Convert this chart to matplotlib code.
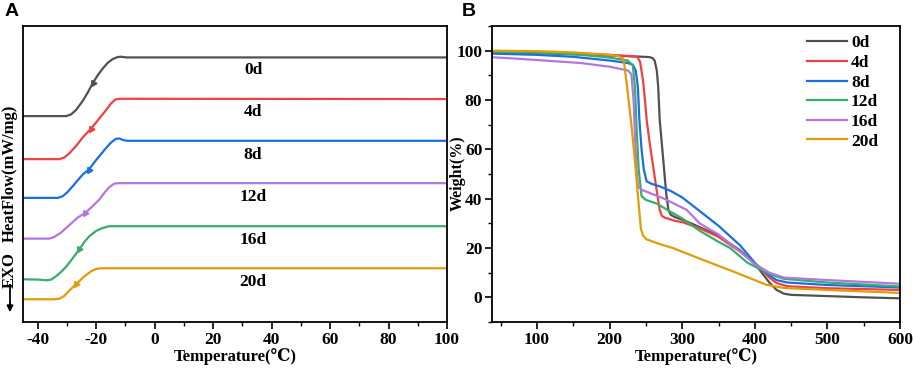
import numpy as np
import matplotlib
matplotlib.use("Agg")
import matplotlib.pyplot as plt
from matplotlib.ticker import MultipleLocator

plt.rcParams['font.family'] = ['Liberation Serif', 'DejaVu Serif']
plt.rcParams['font.weight'] = 'bold'
plt.rcParams['axes.unicode_minus'] = False

colors = ['#515151', '#F14040', '#1A6FDF', '#B177DE', '#37AD6B', '#E19C0A']

# ---- panel A : DSC curves (arbitrary heat-flow units, stacked) ----
dsc_labels = ['0d', '4d', '8d', '12d', '16d', '20d']
t_0d = [-45, -30.3, -28.6, -26.9, -24.6, -22.9, -21.2, -19.4, -17.7, -16.0, -14.3, -12.6, -11.4, -9.7, 100]
h_0d = [205.7, 205.7, 207.3, 211.7, 220.7, 229.0, 238.3, 246.7, 253.3, 259.0, 262.7, 264.7, 265.0, 264.3, 264.3]
t_4d = [-45, -32.6, -30.9, -29.2, -26.9, -24.6, -21.7, -18.9, -16.6, -14.9, -13.4, -12.0, 100]
h_4d = [162.7, 162.7, 164.3, 168.3, 175.7, 184.3, 193.3, 203.3, 211.7, 218.3, 222.3, 223.0, 222.7]
t_8d = [-45, -33.1, -31.4, -29.7, -27.4, -24.6, -22.5, -20.0, -17.2, -14.9, -13.2, -12.0, -10.7, -9.2, 100]
h_8d = [124.0, 124.0, 125.7, 130.0, 137.7, 147.3, 152.3, 161.7, 171.7, 179.3, 183.0, 183.3, 181.7, 181.0, 181.0]
t_12d = [-45, -36.0, -34.3, -32.0, -29.2, -26.3, -23.7, -21.2, -18.9, -17.2, -15.4, -13.7, -12.0, 100]
h_12d = [83.3, 83.3, 85.0, 89.3, 96.7, 104.3, 109.0, 115.7, 122.3, 129.0, 135.0, 138.3, 138.7, 138.7]
t_16d = [-45, -39.4, -37.1, -35.4, -33.7, -32.0, -30.3, -28.0, -25.7, -24.0, -22.3, -20.0, -17.7, -15.4, 100]
h_16d = [42.7, 42.3, 41.7, 42.3, 45.7, 50.0, 55.0, 63.7, 72.7, 80.0, 85.7, 91.0, 94.0, 95.7, 95.7]
t_20d = [-45, -34.3, -32.6, -30.9, -29.2, -26.9, -24.0, -21.7, -20.0, -18.3, 100]
h_20d = [22.7, 22.7, 23.3, 26.0, 31.3, 37.7, 45.7, 50.7, 53.0, 53.7, 53.7]
arrow_t = [-21.2, -21.7, -22.5, -23.7, -25.7, -26.9]
arrow_h = [239.0, 193.3, 152.3, 109.0, 72.7, 37.7]
label_h = [251.7, 210.0, 166.7, 125.0, 81.7, 40.0]
label_t = 33.7

# ---- panel B : TGA curves ----
tga_labels = ['0d', '4d', '8d', '12d', '16d', '20d']
tga_colors = ['#515151', '#F14040', '#1A6FDF', '#37AD6B', '#B177DE', '#E19C0A']
T_0d = [40, 100, 150, 200, 240, 255, 259, 262, 265, 267, 269, 272, 275, 278, 281, 284, 290, 300, 320, 350, 380, 400, 407, 420, 430, 440, 450, 500, 550, 600]
W_0d = [99.5, 99.0, 98.5, 98.0, 97.6, 97.4, 97.0, 96.0, 92.0, 85.0, 72.0, 62.0, 52.0, 42.0, 35.5, 33.5, 32.5, 31.5, 29.0, 25.0, 19.0, 13.5, 11.0, 6.0, 3.0, 1.5, 1.0, 0.5, 0.0, -0.4]
T_4d = [40, 100, 150, 200, 230, 238, 242, 246, 249, 251, 255, 260, 265, 269, 272, 276, 290, 300, 324, 350, 380, 407, 420, 430, 445, 500, 600]
W_4d = [99.8, 99.5, 99.0, 98.3, 97.8, 97.5, 95.5, 88.0, 79.0, 72.0, 63.0, 53.0, 43.0, 35.5, 33.0, 32.3, 31.0, 30.5, 28.0, 24.5, 18.5, 12.0, 8.0, 5.8, 4.5, 3.7, 3.0]
T_8d = [40, 100, 150, 200, 225, 232, 236, 239, 241, 244, 247, 251, 258, 269, 285, 300, 324, 350, 380, 400, 415, 430, 445, 500, 600]
W_8d = [98.8, 98.3, 97.5, 96.0, 95.0, 94.3, 92.0, 85.0, 72.0, 60.0, 52.0, 47.0, 46.0, 45.0, 43.0, 40.5, 35.0, 29.0, 21.0, 14.0, 10.0, 7.0, 6.0, 5.0, 4.0]
T_12d = [40, 100, 150, 200, 225, 232, 235, 237, 240, 244, 250, 265, 285, 300, 324, 350, 366, 390, 410, 425, 440, 500, 600]
W_12d = [99.6, 99.2, 98.6, 97.2, 96.0, 94.0, 85.0, 70.0, 52.0, 41.0, 39.5, 38.0, 34.5, 32.0, 27.0, 22.5, 20.0, 14.0, 11.0, 9.0, 7.5, 6.0, 4.4]
T_16d = [40, 70, 110, 160, 200, 225, 230, 233, 235, 237, 239, 245, 275, 306, 324, 350, 380, 400, 420, 440, 500, 600]
W_16d = [97.3, 96.8, 96.0, 95.0, 93.5, 92.0, 90.5, 80.0, 65.0, 52.0, 45.0, 43.5, 40.0, 35.5, 30.0, 25.5, 18.5, 13.5, 10.0, 8.0, 7.0, 5.5]
T_20d = [40, 100, 150, 200, 212, 218, 220, 225, 230, 235, 240, 243, 246, 251, 270, 287, 324, 370, 416, 440, 500, 600]
W_20d = [100.0, 99.8, 99.3, 98.3, 97.8, 97.0, 95.0, 83.0, 70.0, 55.0, 38.0, 28.0, 25.0, 23.5, 21.5, 20.0, 15.7, 10.5, 5.1, 3.8, 3.0, 1.8]

W, H = 913, 368
fig = plt.figure(figsize=(W / 100, H / 100), dpi=100)

def px_axes(l, t, r, b):
    return fig.add_axes([l / W, 1 - b / H, (r - l) / W, (b - t) / H])

def style(ax):
    for s in ax.spines.values():
        s.set_linewidth(1.3)
    ax.tick_params(which='major', direction='out', length=5, width=1.2, labelsize=12.5, pad=2)
    ax.tick_params(which='minor', direction='out', length=3, width=1.0)

# panel A
axA = px_axes(23, 26, 447, 322)
dsc_t = [t_0d, t_4d, t_8d, t_12d, t_16d, t_20d]
dsc_h = [h_0d, h_4d, h_8d, h_12d, h_16d, h_20d]
for i in range(6):
    axA.plot(dsc_t[i], dsc_h[i], color=colors[i], lw=1.6)
    axA.plot(arrow_t[i], arrow_h[i], marker=(3, 0, 150), ms=5, color=colors[i])
    axA.text(label_t, label_h[i], dsc_labels[i], ha='center', va='center', fontsize=12.5, fontweight='bold')
axA.set_xlim(-45, 100)
axA.set_ylim(0, 295.7)
axA.set_yticks([])
axA.xaxis.set_major_locator(MultipleLocator(20))
axA.xaxis.set_minor_locator(MultipleLocator(10))
axA.set_xlabel('Temperature(℃)', fontsize=12, fontweight='bold', labelpad=0)
style(axA)

fig.text(10 / W, 1 - 173 / H, 'HeatFlow(mW/mg)', rotation=90, ha='center', va='center', fontsize=12, fontweight='bold')
fig.text(10 / W, 1 - 270 / H, 'EXO', rotation=90, ha='center', va='center', fontsize=12, fontweight='bold')
fig.add_artist(plt.Line2D([10 / W, 10 / W], [1 - 285 / H, 1 - 308 / H], color='k', lw=1.3))
axA.annotate('', xy=(10, H - 315), xytext=(10, H - 300), xycoords='figure pixels',
             arrowprops=dict(arrowstyle='-|>', color='k', lw=1.3, mutation_scale=9))

# panel B
axB = px_axes(492, 26, 900, 322)
tga_T = [T_0d, T_4d, T_8d, T_12d, T_16d, T_20d]
tga_W = [W_0d, W_4d, W_8d, W_12d, W_16d, W_20d]
for i in range(6):
    axB.plot(tga_T[i], tga_W[i], color=tga_colors[i], lw=1.6, label=tga_labels[i])
axB.set_xlim(38, 600)
axB.set_ylim(-10, 110)
axB.xaxis.set_major_locator(MultipleLocator(100))
axB.xaxis.set_minor_locator(MultipleLocator(50))
axB.yaxis.set_major_locator(MultipleLocator(20))
axB.yaxis.set_minor_locator(MultipleLocator(10))
axB.set_xlabel('Temperature(℃)', fontsize=12, fontweight='bold', labelpad=0)
style(axB)
fig.text(458 / W, 1 - 173 / H, 'Weight(%)', rotation=90, ha='center', va='center', fontsize=11.5, fontweight='bold')
axB.legend(loc='upper left', bbox_to_anchor=(0.752, 0.998), frameon=False, borderpad=0,
           handlelength=2.3, handletextpad=0.2, labelspacing=0.2,
           prop={'family': 'Liberation Serif', 'weight': 'bold', 'size': 12.5})

fig.text(5 / W, 1 - 12 / H, 'A', fontsize=14, fontweight='bold', family='Liberation Sans', va='center')
fig.text(462 / W, 1 - 12 / H, 'B', fontsize=14, fontweight='bold', family='Liberation Sans', va='center')

fig.canvas.draw()
for ax in (axA, axB):
    for lab in ax.get_xticklabels() + ax.get_yticklabels():
        lab.set_fontweight('bold')

fig.savefig('out.png', dpi=100)
